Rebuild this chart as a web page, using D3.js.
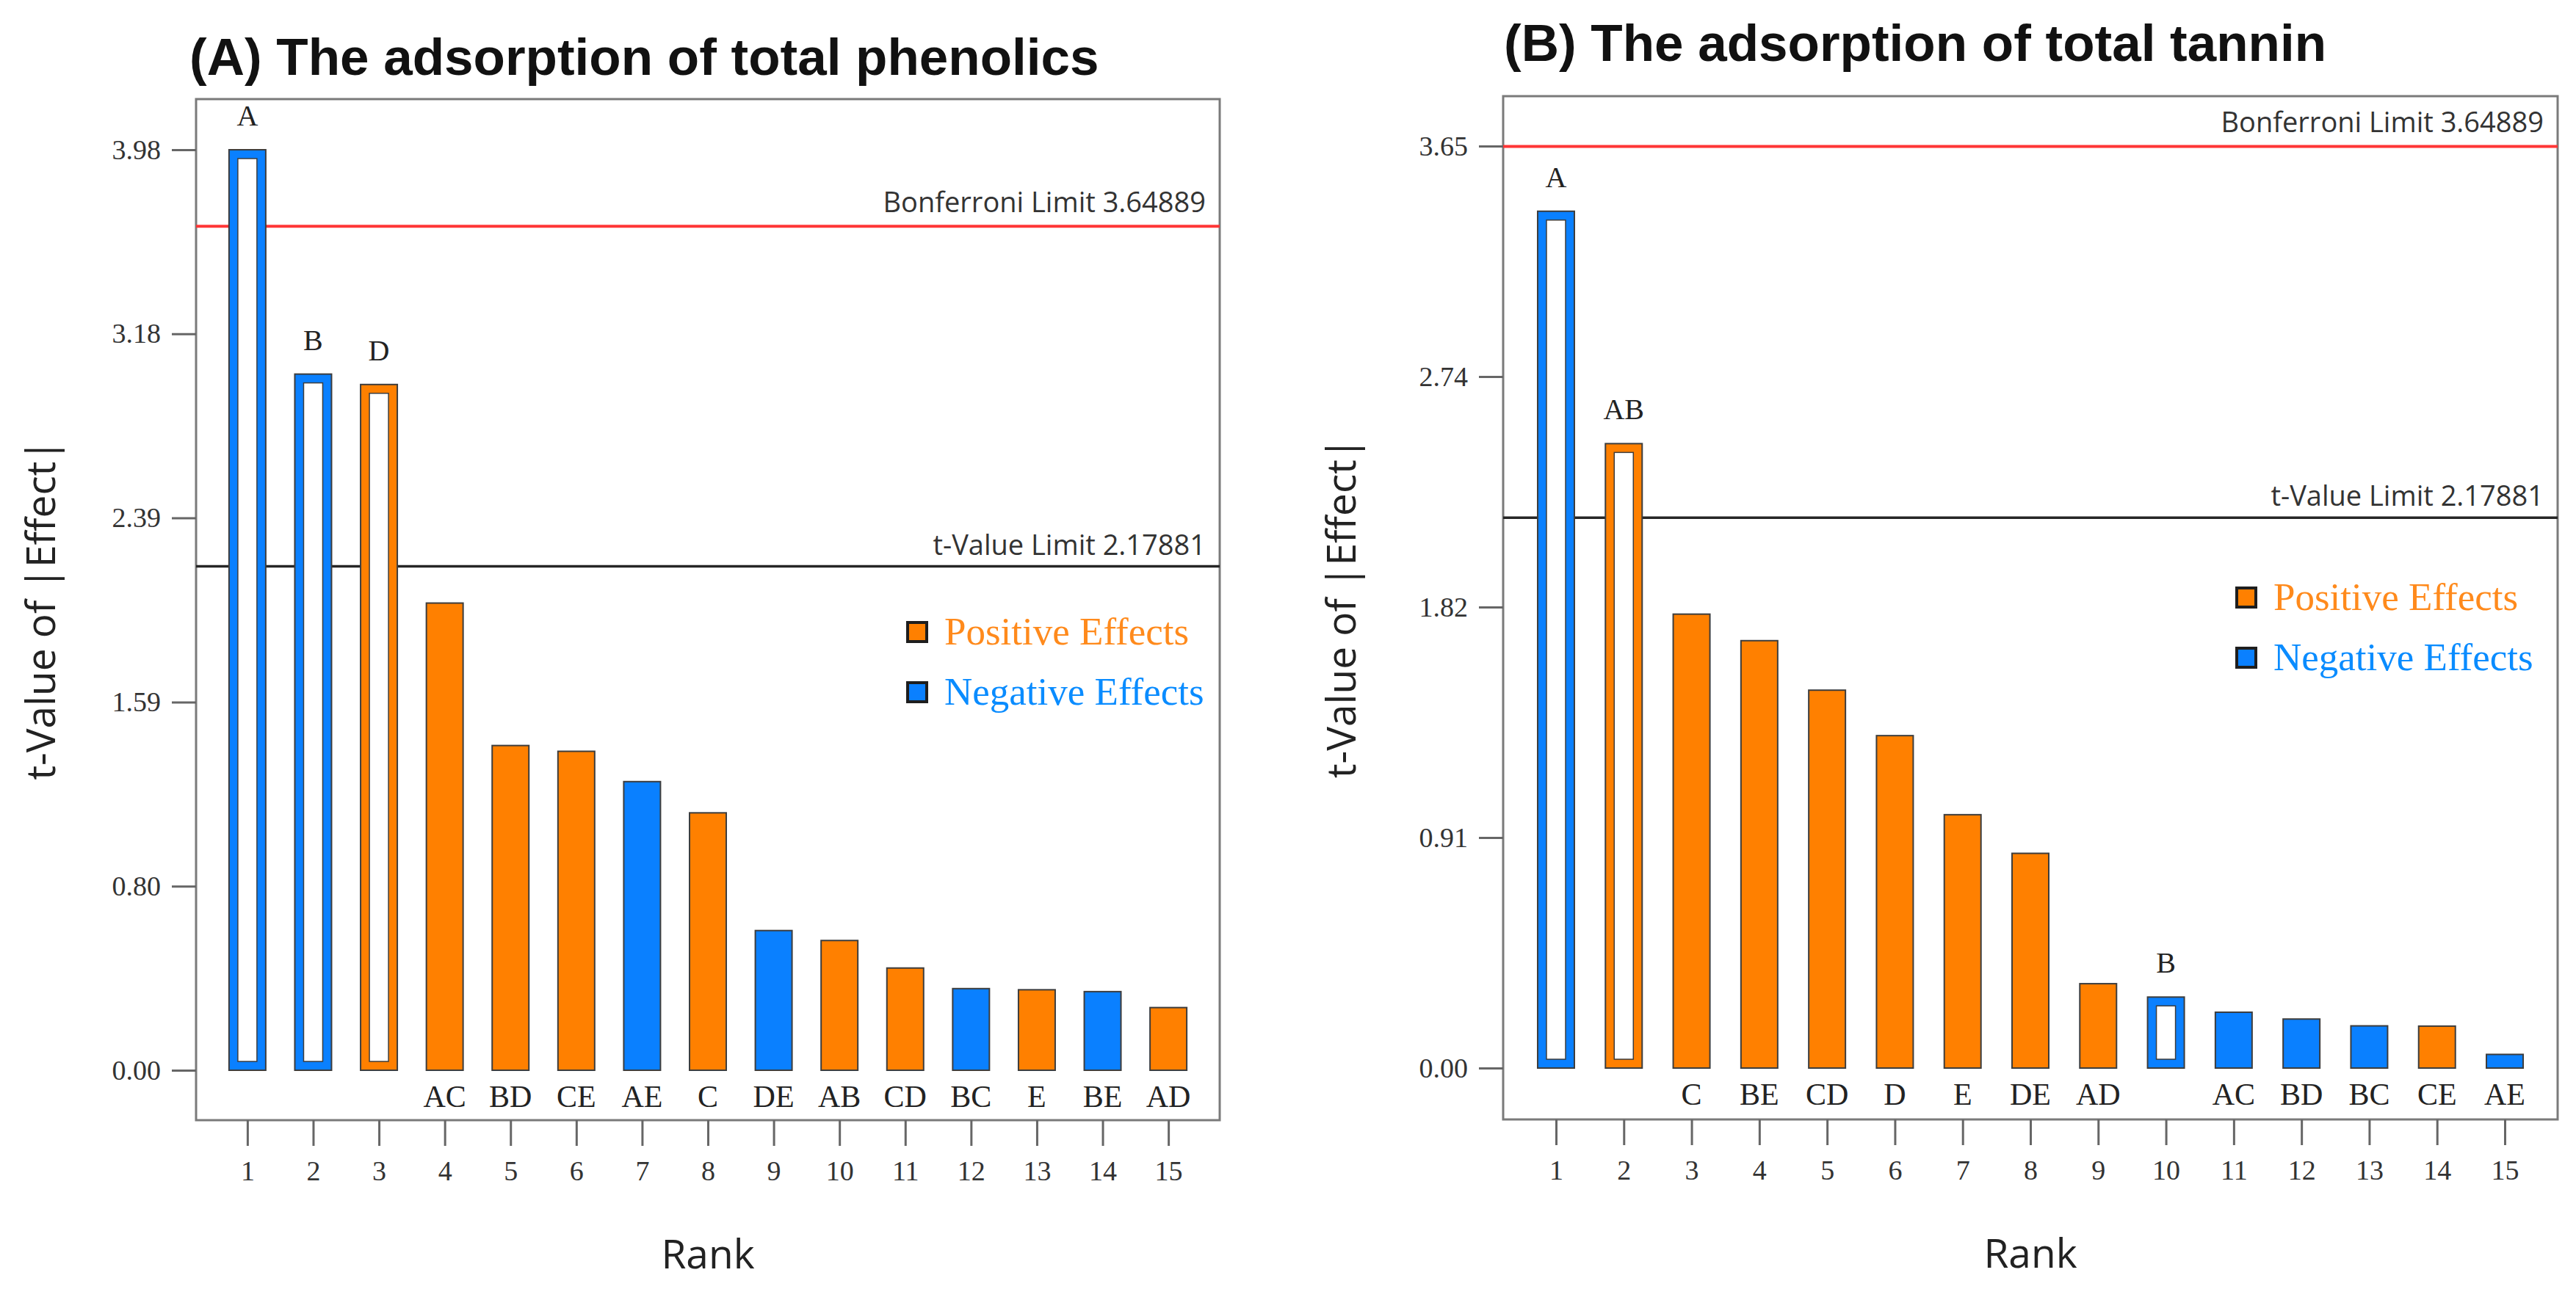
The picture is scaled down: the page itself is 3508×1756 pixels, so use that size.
<!DOCTYPE html>
<html>
  <head>
    <meta charset="utf-8">
    <title>Half-normal ranking of effects</title>
    <script src="https://cdn.jsdelivr.net/npm/d3@7"></script>
    <style>
      body { margin: 0; background: #fff; }
      svg { display: block; }
      .serif { font-family: "Liberation Serif", "Times New Roman", serif; }
      .sans { font-family: "Open Sans", "DejaVu Sans", sans-serif; }
      .title { font-family: "Liberation Sans", Arial, sans-serif; font-weight: bold; }
    </style>
  </head>

  <body>
    <svg id="chart" width="3508" height="1756"></svg>

    <script>
      // data
      rankTicks = [1, 2, 3, 4, 5, 6, 7, 8, 9, 10, 11, 12, 13, 14, 15];
      bonferroniLimit = 3.64889;
      tValueLimit = 2.17881;

      termsA = ["A", "B", "D", "AC", "BD", "CE", "AE", "C", "DE", "AB", "CD", "BC", "E", "BE", "AD"];
      tValuesA = [3.98, 3.01, 2.965, 2.02, 1.404, 1.379, 1.248, 1.113, 0.604, 0.561, 0.442, 0.353, 0.348, 0.340, 0.271];
      signsA = ["neg", "neg", "pos", "pos", "pos", "pos", "neg", "pos", "neg", "pos", "pos", "neg", "pos", "neg", "pos"];
      hollowA = [true, true, true, false, false, false, false, false, false, false, false, false, false, false, false];
      yTicksA = [0, 0.796, 1.592, 2.388, 3.184, 3.98];
      yTickLabelsA = ["0.00", "0.80", "1.59", "2.39", "3.18", "3.98"];

      termsB = ["A", "AB", "C", "BE", "CD", "D", "E", "DE", "AD", "B", "AC", "BD", "BC", "CE", "AE"];
      tValuesB = [3.392, 2.472, 1.797, 1.692, 1.496, 1.316, 1.003, 0.850, 0.334, 0.281, 0.221, 0.194, 0.167, 0.166, 0.054];
      signsB = ["neg", "pos", "pos", "pos", "pos", "pos", "pos", "pos", "pos", "neg", "neg", "neg", "neg", "pos", "neg"];
      hollowB = [true, true, false, false, false, false, false, false, false, true, false, false, false, false, false];
      yTicksB = [0, 0.9125, 1.825, 2.7375, 3.65];
      yTickLabelsB = ["0.00", "0.91", "1.82", "2.74", "3.65"];

      barColour = { pos: "#ff8000", neg: "#0a80ff" };
      textColour = { pos: "#ff8a1c", neg: "#0a8cff" };

      svg = d3.select("#chart");

      drawPanel({
        title: "(A) The adsorption of total phenolics",
        titleX: 258, titleY: 102,
        left: 267, right: 1661, top: 135, bottom: 1526,
        zeroY: 1458, topY: 204,
        terms: termsA, values: tValuesA, signs: signsA, hollow: hollowA,
        yTicks: yTicksA, yTickLabels: yTickLabelsA,
        labelX: 75, legendX: 1236, legendY: 848
      });

      drawPanel({
        title: "(B) The adsorption of total tannin",
        titleX: 2048, titleY: 83,
        left: 2047, right: 3483, top: 131, bottom: 1525,
        zeroY: 1455, topY: 199,
        terms: termsB, values: tValuesB, signs: signsB, hollow: hollowB,
        yTicks: yTicksB, yTickLabels: yTickLabelsB,
        labelX: 1846, legendX: 3046, legendY: 801
      });

      function drawPanel(p) {
        g = svg.append("g");

        x = d3.scaleLinear()
          .domain([0.22, 15.78])
          .range([p.left, p.right]);
        y = d3.scaleLinear()
          .domain([0, p.yTicks[p.yTicks.length - 1]])
          .range([p.zeroY, p.topY]);
        barW = 50;
        inset = 12;

        // title
        g.append("text")
          .attr("class", "title")
          .attr("x", p.titleX)
          .attr("y", p.titleY)
          .attr("font-size", 71)
          .attr("fill", "#111")
          .text(p.title);

        // frame
        g.append("rect")
          .attr("x", p.left)
          .attr("y", p.top)
          .attr("width", p.right - p.left)
          .attr("height", p.bottom - p.top)
          .attr("fill", "none")
          .attr("stroke", "#7a7a7a")
          .attr("stroke-width", 3);

        // y axis
        yAxis = d3.axisLeft(y)
          .tickValues(p.yTicks)
          .tickFormat(function(d, i) { return p.yTickLabels[i]; })
          .tickSize(33)
          .tickPadding(15);
        yg = g.append("g")
          .attr("transform", "translate(" + p.left + ",0)")
          .call(yAxis);
        yg.select(".domain").remove();
        yg.selectAll("line").attr("stroke", "#666").attr("stroke-width", 3);
        yg.selectAll("text")
          .attr("class", "serif")
          .attr("font-size", 38)
          .attr("fill", "#333");

        // x axis
        xAxis = d3.axisBottom(x)
          .tickValues(rankTicks)
          .tickFormat(d3.format("d"))
          .tickSize(35)
          .tickPadding(20);
        xg = g.append("g")
          .attr("transform", "translate(0," + p.bottom + ")")
          .call(xAxis);
        xg.select(".domain").remove();
        xg.selectAll("line").attr("stroke", "#666").attr("stroke-width", 3);
        xg.selectAll("text")
          .attr("class", "serif")
          .attr("font-size", 38)
          .attr("fill", "#333");

        // limit lines
        limits = [
          { value: bonferroniLimit, label: "Bonferroni Limit 3.64889", colour: "#ff3636", width: 4, gap: 19 },
          { value: tValueLimit, label: "t-Value Limit 2.17881", colour: "#262626", width: 3.5, gap: 16 }
        ];
        g.selectAll(".limit")
          .data(limits)
        .enter().append("line")
          .attr("x1", p.left)
          .attr("x2", p.right)
          .attr("y1", function(d) { return y(d.value); })
          .attr("y2", function(d) { return y(d.value); })
          .attr("stroke", function(d) { return d.colour; })
          .attr("stroke-width", function(d) { return d.width; });
        g.selectAll(".limitLabel")
          .data(limits)
        .enter().append("text")
          .attr("class", "sans")
          .attr("x", p.right - 19)
          .attr("y", function(d) { return y(d.value) - d.gap; })
          .attr("text-anchor", "end")
          .attr("font-size", 38)
          .attr("fill", "#333")
          .text(function(d) { return d.label; });

        // bars
        bars = p.terms.map(function(t, i) {
          return { term: t, rank: rankTicks[i], value: p.values[i], sign: p.signs[i], hollow: p.hollow[i] };
        });
        g.selectAll(".bar")
          .data(bars)
        .enter().append("rect")
          .attr("x", function(d) { return x(d.rank) - barW / 2; })
          .attr("y", function(d) { return y(d.value); })
          .attr("width", barW)
          .attr("height", function(d) { return y(0) - y(d.value); })
          .attr("fill", function(d) { return barColour[d.sign]; })
          .attr("stroke", "#3d3d3d")
          .attr("stroke-width", 2);
        g.selectAll(".inner")
          .data(bars.filter(function(d) { return d.hollow; }))
        .enter().append("rect")
          .attr("x", function(d) { return x(d.rank) - barW / 2 + inset; })
          .attr("y", function(d) { return y(d.value) + inset; })
          .attr("width", barW - inset * 2)
          .attr("height", function(d) { return y(0) - y(d.value) - inset * 2; })
          .attr("fill", "#fff")
          .attr("stroke", "#3d3d3d")
          .attr("stroke-width", 1.5);

        // term labels: above hollow bars, below the rest
        g.selectAll(".term")
          .data(bars)
        .enter().append("text")
          .attr("class", "serif")
          .attr("x", function(d) { return x(d.rank); })
          .attr("y", function(d) { return d.hollow ? y(d.value) - 33 : y(0) + 50; })
          .attr("text-anchor", "middle")
          .attr("font-size", function(d) { return d.hollow ? 40 : 42; })
          .attr("fill", "#222")
          .text(function(d) { return d.term; });

        // axis titles
        g.append("text")
          .attr("class", "sans")
          .attr("transform", "translate(" + p.labelX + "," + (p.top + p.bottom) / 2 + ") rotate(-90)")
          .attr("text-anchor", "middle")
          .attr("font-size", 55)
          .attr("fill", "#222")
          .text("t-Value of |Effect|");
        g.append("text")
          .attr("class", "sans")
          .attr("x", (p.left + p.right) / 2)
          .attr("y", p.bottom + 202)
          .attr("text-anchor", "middle")
          .attr("font-size", 55)
          .attr("fill", "#222")
          .text("Rank");

        // legend
        legend = [
          { sign: "pos", label: "Positive Effects" },
          { sign: "neg", label: "Negative Effects" }
        ];
        lg = g.selectAll(".key")
          .data(legend)
        .enter().append("g")
          .attr("transform", function(d, i) {
            return "translate(" + p.legendX + "," + (p.legendY + i * 82) + ")";
          });
        lg.append("rect")
          .attr("width", 26)
          .attr("height", 26)
          .attr("fill", function(d) { return barColour[d.sign]; })
          .attr("stroke", "#1e1e1e")
          .attr("stroke-width", 4);
        lg.append("text")
          .attr("class", "serif")
          .attr("x", 50)
          .attr("y", 30)
          .attr("font-size", 53)
          .attr("fill", function(d) { return textColour[d.sign]; })
          .text(function(d) { return d.label; });
      }
    </script>
  </body>
</html>
